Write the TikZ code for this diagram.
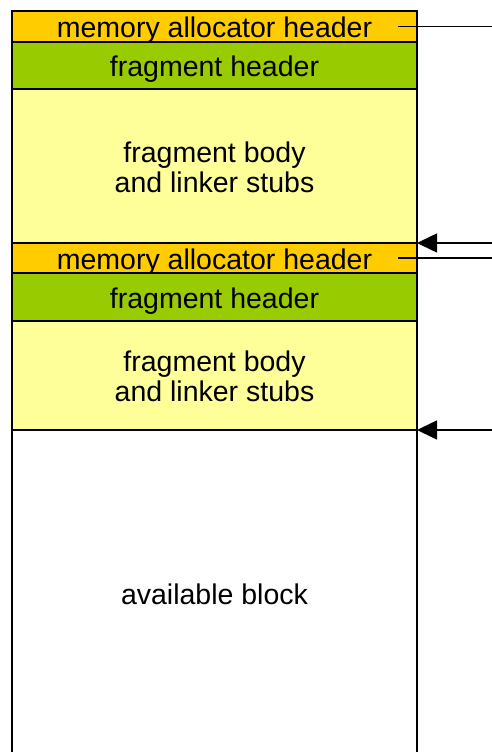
\documentclass[tikz,border=0pt]{standalone}
\usepackage{fontspec}
\setmainfont{Liberation Sans}
\usetikzlibrary{arrows.meta}
\definecolor{hdrorange}{HTML}{FFCC00}
\definecolor{fraggreen}{HTML}{99CC00}
\definecolor{bodyyellow}{HTML}{FFFF99}
\begin{document}
\begin{tikzpicture}[x=1pt,y=-1pt,
  box/.style={draw=black,line width=1.6pt,inner sep=0pt,outer sep=0pt,
    minimum width=405pt,align=center,
    font=\fontsize{28.5}{30}\selectfont},
  oneline/.style={text height=26pt,text depth=4pt},
  twoline/.style={text height=56pt,text depth=4pt},
  lbl/.style={inner sep=0pt,align=center,font=\fontsize{28.5}{30}\selectfont},
  conn/.style={line width=1.6pt},
  arr/.style={line width=1.6pt,-{Triangle[length=20pt,width=19pt]}}]
\useasboundingbox (0,0) rectangle (492,752);
% left column of blocks
\node[box,oneline,fill=hdrorange,minimum height=31pt] (h1) at (214.5,26.5) {memory allocator header};
\node[box,oneline,fill=fraggreen,minimum height=47pt] (g1) at (214.5,65.5) {fragment header};
\node[box,twoline,fill=bodyyellow,minimum height=154pt] (b1) at (214.5,166) {fragment body\\and linker stubs};
\node[box,oneline,fill=hdrorange,minimum height=30pt] (h2) at (214.5,258) {memory allocator header};
\node[box,oneline,fill=fraggreen,minimum height=48pt] (g2) at (214.5,297) {fragment header};
\node[box,twoline,fill=bodyyellow,minimum height=109pt] (b2) at (214.5,375.5) {fragment body\\and linker stubs};
% available block (open at the bottom)
\coordinate (awl) at (12,760);
\coordinate (awr) at (417,760);
\draw[conn] (b2.south west) -- (awl);
\draw[conn] (b2.south east) -- (awr);
\node[lbl,oneline] (avail) at (214.5,593) {available block};
% pointers
\coordinate (r1) at (492,26.5);
\coordinate (r2) at (492,243);
\coordinate (r3) at (492,258);
\coordinate (r4) at (492,430);
\draw[conn] ([xshift=-19pt]h1.east) -- (r1);
\draw[arr] (r2) -- (b1.south east);
\draw[conn] ([xshift=-19pt]h2.east) -- (r3);
\draw[arr] (r4) -- (b2.south east);
\end{tikzpicture}
\end{document}
